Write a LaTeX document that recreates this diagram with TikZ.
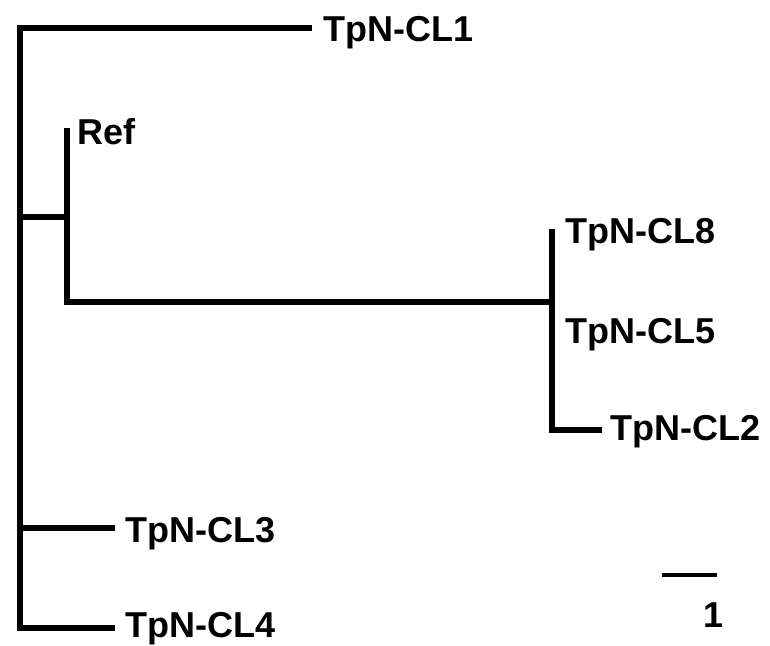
\documentclass[tikz,border=0pt]{standalone}
\usepackage{fontspec}
\setmainfont{Liberation Sans}
\begin{document}
\begin{tikzpicture}[x=1pt,y=-1pt,
  branch/.style={line width=5.5pt, line join=miter, line cap=butt, black},
  scalebar/.style={line width=3.5pt, black},
  leaf/.style={anchor=base west, inner sep=0pt, font=\bfseries\fontsize{36}{40}\selectfont, text=black}]
\useasboundingbox (0,0) rectangle (770,645);
% coordinates of the tree
\coordinate (rtop) at (20,28);
\coordinate (rbot) at (20,628);
\coordinate (e1) at (312,28);
\coordinate (e4) at (115,628);
\coordinate (j1) at (20,217);
\coordinate (j2) at (67,217);
\coordinate (reftop) at (67,128);
\coordinate (refbot) at (67,302);
\coordinate (c8) at (552,302);
\coordinate (c8top) at (552,229);
\coordinate (c8bot) at (552,430);
\coordinate (e2) at (602,430);
\coordinate (j3) at (20,528);
\coordinate (e3) at (115,528);
\coordinate (s1) at (662,575);
\coordinate (s2) at (717,575);
% labels
\node[leaf] (cl1) at (323,41) {TpN-CL1};
\node[leaf] (ref) at (77,144) {Ref};
\node[leaf] (cl8) at (565,243) {TpN-CL8};
\node[leaf] (cl5) at (565,343) {TpN-CL5};
\node[leaf] (cl2) at (610,440) {TpN-CL2};
\node[leaf] (cl3) at (125,542) {TpN-CL3};
\node[leaf] (cl4) at (125,637) {TpN-CL4};
\node[leaf, anchor=base] (one) at (713,627) {1};
% branches
\draw[branch] (e1) -- (rtop) -- (rbot) -- (e4);
\draw[branch] (j1) -- (j2);
\draw[branch] (reftop) -- (refbot) -- (c8);
\draw[branch] (c8top) -- (c8bot) -- (e2);
\draw[branch] (j3) -- (e3);
\draw[scalebar] (s1) -- (s2);
\end{tikzpicture}
\end{document}
